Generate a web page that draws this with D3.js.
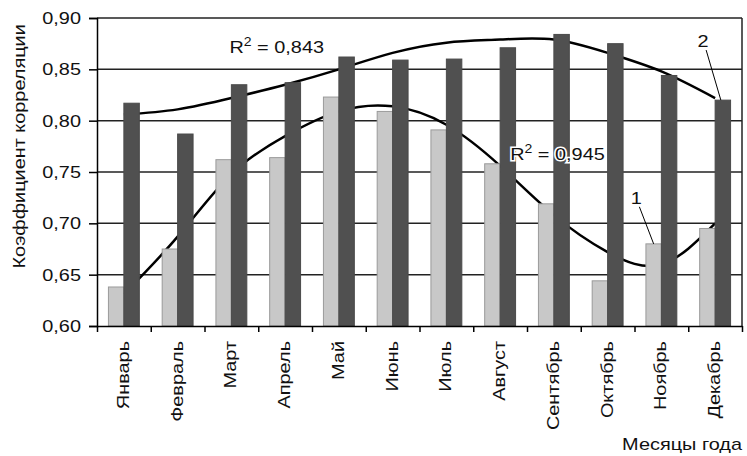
<!DOCTYPE html>
<html>
<head>
<meta charset="utf-8">
<script src="https://cdn.jsdelivr.net/npm/d3@7"></script>
<style>
    body { margin: 0; background: #fff; }
    svg { display: block; font-family: "Liberation Sans", Arial, sans-serif; }
</style>
</head>
<body>
<svg id="chart" width="747" height="456"></svg>
<script>
// Данные
const months = ['Январь', 'Февраль', 'Март', 'Апрель', 'Май', 'Июнь',
                'Июль', 'Август', 'Сентябрь', 'Октябрь', 'Ноябрь', 'Декабрь'];
const series1 = [0.638, 0.675, 0.762, 0.764, 0.823, 0.809, 0.791, 0.758, 0.719, 0.644, 0.680, 0.695];
const series2 = [0.817, 0.787, 0.835, 0.837, 0.862, 0.859, 0.860, 0.871, 0.884, 0.875, 0.844, 0.820];
const trend1 = [0.631, 0.687, 0.748, 0.785, 0.809, 0.814, 0.796, 0.756, 0.708, 0.672, 0.660, 0.700];
const trend2 = [0.806, 0.811, 0.822, 0.835, 0.850, 0.866, 0.876, 0.879, 0.879, 0.866, 0.848, 0.822];
const yTicks = [0.60, 0.65, 0.70, 0.75, 0.80, 0.85, 0.90];
const r2Text = ['0,945', '0,843'];

const svg = d3.select('#chart');
const margin = { top: 18, right: 5, bottom: 130, left: 97 };
const W = +svg.attr('width'), H = +svg.attr('height');
const width = W - margin.left - margin.right;
const height = H - margin.top - margin.bottom;
const fontSize = 17;
const stretch = 1.17;   // шрифт на исходнике шире, чем Liberation Sans

const g = svg.append('g')
    .attr('transform', `translate(${margin.left},${margin.top})`);

// Шкалы
const x = d3.scaleBand().domain(months).range([0, width]).padding(0);
const xSub = d3.scaleBand().domain(['s1', 's2']).range([0, x.bandwidth()]).paddingInner(0).paddingOuter(0.74);
const y = d3.scaleLinear().domain([0.60, 0.90]).range([height, 0]);
const xc = m => x(m) + x.bandwidth() / 2;
const fmt = v => d3.format('.2f')(v).replace('.', ',');

// Сетка
g.append('g')
    .selectAll('line')
    .data(yTicks.slice(1))
    .enter()
    .append('line')
    .attr('x1', 0)
    .attr('x2', width)
    .attr('y1', d => y(d))
    .attr('y2', d => y(d))
    .style('stroke', '#222')
    .style('stroke-width', 1.5);

// Правая граница области построения
g.append('line')
    .attr('x1', width).attr('x2', width)
    .attr('y1', 0).attr('y2', height)
    .style('stroke', '#222')
    .style('stroke-width', 1.5);

// Линии тренда (за столбцами)
const trendLine = d3.line()
    .x((d, i) => xc(months[i]))
    .y(d => y(d))
    .curve(d3.curveNatural);

[trend1, trend2].forEach(t => {
    g.append('path')
        .datum(t)
        .attr('d', trendLine)
        .style('fill', 'none')
        .style('stroke', '#000')
        .style('stroke-width', 2.5);
});

// Столбцы
function drawBars(values, key, fill, stroke) {
    g.selectAll('.bar-' + key)
        .data(values)
        .enter()
        .append('rect')
        .attr('class', 'bar-' + key)
        .attr('x', (d, i) => x(months[i]) + xSub(key))
        .attr('y', d => y(d))
        .attr('width', xSub.bandwidth())
        .attr('height', d => height - y(d))
        .style('fill', fill)
        .style('stroke', stroke)
        .style('stroke-width', 1);
}
drawBars(series1, 's1', '#c8c8c8', '#9a9a9a');
drawBars(series2, 's2', '#505050', '#4a4a4a');

// Ось Y
const yAxis = g.append('g')
    .call(d3.axisLeft(y).tickValues(yTicks).tickFormat(fmt).tickSize(8).tickPadding(7));
yAxis.select('.domain').style('stroke', '#000').style('stroke-width', 1.5);
yAxis.selectAll('.tick line').style('stroke', '#000').style('stroke-width', 1.5);
yAxis.selectAll('text')
    .attr('x', null)
    .attr('transform', `translate(-16,0) scale(${stretch},1)`)
    .style('font-size', fontSize + 'px')
    .style('fill', '#111')
    .style('font-family', '"Liberation Sans", Arial, sans-serif');

// Ось X: засечки на границах категорий
const xEdges = d3.scaleLinear().domain([0, months.length]).range([0, width]);
const xAxis = g.append('g')
    .attr('transform', `translate(0,${height})`)
    .call(d3.axisBottom(xEdges).ticks(months.length).tickFormat('').tickSize(6).tickSizeOuter(0));
xAxis.select('.domain').style('stroke', '#000').style('stroke-width', 1.5);
xAxis.selectAll('.tick line').style('stroke', '#000').style('stroke-width', 1.5);

// Подписи месяцев (повернуты)
g.selectAll('.month-label')
    .data(months)
    .enter()
    .append('text')
    .attr('class', 'month-label')
    .attr('transform', d => `translate(${xc(d)},${height + 15}) rotate(-90) scale(${stretch},1)`)
    .attr('dy', '0.3em')
    .attr('text-anchor', 'end')
    .style('font-size', fontSize + 'px')
    .style('fill', '#111')
    .text(d => d);

// Заголовки осей
svg.append('text')
    .attr('transform', `translate(25,${margin.top + y(0.775)}) rotate(-90) scale(${stretch},1)`)
    .attr('text-anchor', 'middle')
    .style('font-size', fontSize + 'px')
    .style('fill', '#111')
    .text('Коэффициент корреляции');

svg.append('text')
    .attr('transform', `translate(${margin.left + width},${H - 6}) scale(${stretch},1)`)
    .attr('text-anchor', 'end')
    .style('font-size', fontSize + 'px')
    .style('fill', '#111')
    .text('Месяцы года');

// Подписи R^2
function r2Label(px, py, value) {
    const t = g.append('text')
        .attr('transform', `translate(${px},${py}) scale(${stretch},1)`)
        .style('font-size', fontSize + 'px')
        .style('fill', '#111')
        .style('paint-order', 'stroke')
        .style('stroke', '#fff')
        .style('stroke-width', 3);
    t.append('tspan').text('R');
    t.append('tspan').attr('dy', -7).style('font-size', '12px').text('2');
    t.append('tspan').attr('dy', 7).text(' = ' + value);
}
r2Label(xc('Март') - 2, y(0.866), r2Text[1]);
r2Label(xc('Август') + 10, y(0.762), r2Text[0]);

// Номера рядов с выносками
function seriesMarker(label, tx, ty, bx, by) {
    g.append('line')
        .attr('x1', tx + 3).attr('y1', ty + 3)
        .attr('x2', bx).attr('y2', by)
        .style('stroke', '#000')
        .style('stroke-width', 1);
    g.append('text')
        .attr('transform', `translate(${tx},${ty}) scale(${stretch},1)`)
        .attr('text-anchor', 'middle')
        .style('font-size', fontSize + 'px')
        .style('fill', '#111')
        .text(label);
}
seriesMarker('1', xc('Ноябрь') - 25, y(0.719),
    x('Ноябрь') + xSub('s1') + xSub.bandwidth() / 2, y(series1[10]));
seriesMarker('2', xc('Декабрь') - 12, y(0.8717),
    x('Декабрь') + xSub('s2') + xSub.bandwidth() / 2 - 2, y(series2[11]));
</script>
</body>
</html>
